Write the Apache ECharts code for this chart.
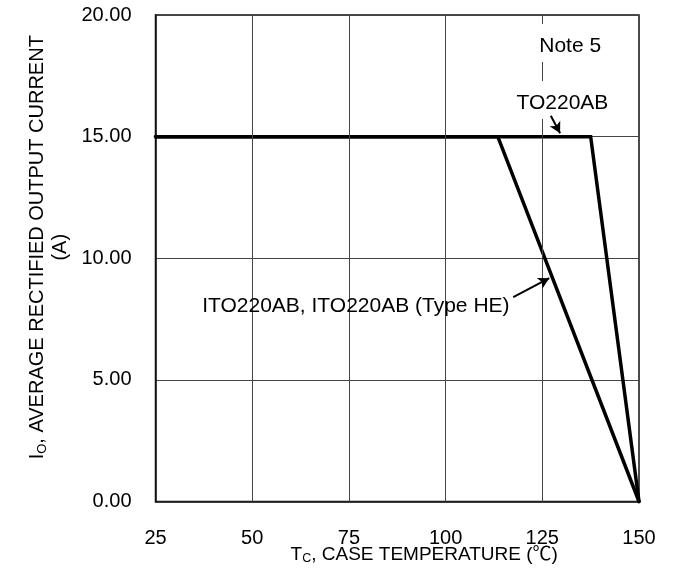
<!DOCTYPE html>
<html>
<head>
<meta charset="utf-8">
<script src="https://cdn.jsdelivr.net/npm/echarts@6/dist/echarts.min.js"></script>
<style>
html,body{margin:0;padding:0;background:#fff;}
#chart{width:675px;height:575px;}
</style>
</head>
<body>
<div id="chart"></div>
<script>
// ---- data ----
const xTicks = [25, 50, 75, 100, 125, 150];
const yTicks = [0, 5, 10, 15, 20];
const to220abTemp = [25, 137.5, 150];
const to220abCurrent = [15, 15, 0];
const ito220abTemp = [25, 113.5, 150];
const ito220abCurrent = [15, 15, 0];
const noteTemp = 125;           // Note 5 limit line
const noteCurrentRange = [15, 20];
const labelTexts = ['Note 5', 'TO220AB', 'ITO220AB, ITO220AB (Type HE)'];
const labelTemp = [132.2, 130.2, 76.8];
const labelCurrent = [18.73, 16.39, 8.04];
const arrowFromTemp = [127.2, 117.5];
const arrowFromCurrent = [15.86, 8.40];
const arrowToTemp = [129.6, 126.8];
const arrowToCurrent = [15.14, 9.18];

const FONT = '"Liberation Sans", Arial, "Noto Sans CJK JP", sans-serif';
const gridColor = '#444';

const zip = (a, b) => a.map((v, i) => [v, b[i]]);

const gridLines = [];
xTicks.slice(1, -1).forEach(t => {
  if (t === noteTemp) {
    gridLines.push([{coord: [t, yTicks[0]]}, {coord: [t, noteCurrentRange[0]]}]);
    gridLines.push([
      {coord: [t, noteCurrentRange[1]], lineStyle: {type: [19, 38], dashOffset: 10, color: gridColor, width: 1}},
      {coord: [t, noteCurrentRange[0]]}
    ]);
  } else {
    gridLines.push([{coord: [t, yTicks[0]]}, {coord: [t, yTicks[yTicks.length - 1]]}]);
  }
});

const arrows = arrowFromTemp.map((t, i) => [
  {coord: [t, arrowFromCurrent[i]]},
  {coord: [arrowToTemp[i], arrowToCurrent[i]]}
]);

const chart = echarts.init(document.getElementById('chart'), null, {renderer: 'canvas'});
chart.setOption({
  backgroundColor: '#fff',
  animation: false,
  textStyle: {fontFamily: FONT},
  grid: {
    left: 155.5, right: 36, top: 15, bottom: 73.5,
    containLabel: false, outerBoundsMode: 'none',
    show: true, borderColor: '#111', borderWidth: 1.5, backgroundColor: 'transparent'
  },
  xAxis: {
    type: 'value', min: 25, max: 150, interval: 25,
    axisLine: {show: true, lineStyle: {color: '#111', width: 1.5}},
    axisTick: {show: false},
    splitLine: {show: false},
    axisLabel: {color: '#000', fontSize: 20, fontFamily: FONT, margin: 27},
    name: '{n|T}{s|C}{n|, CASE TEMPERATURE (℃)}',
    nameLocation: 'middle', nameGap: 44, nameMoveOverlap: false,
    nameTextStyle: {
      color: '#000', fontFamily: FONT, padding: [0, 0, 0, 54],
      rich: {
        n: {fontSize: 19, fontFamily: FONT, color: '#000'},
        s: {fontSize: 12.5, fontFamily: FONT, color: '#000', verticalAlign: 'bottom', padding: [6, 0, 0, 0]}
      }
    }
  },
  yAxis: {
    type: 'value', min: 0, max: 20, interval: 5,
    axisLine: {show: true, lineStyle: {color: '#111', width: 1.5}},
    axisTick: {show: false},
    splitLine: {show: true, lineStyle: {color: gridColor, width: 1}},
    axisLabel: {color: '#000', fontSize: 20, fontFamily: FONT, margin: 24, formatter: v => v.toFixed(2)},
    name: '{n|I}{s|O}{n|, AVERAGE RECTIFIED OUTPUT CURRENT}\n{n|(A)}',
    nameLocation: 'middle', nameGap: 84, nameRotate: 90, nameMoveOverlap: false,
    nameTextStyle: {
      color: '#000', fontFamily: FONT, padding: [0, 0, 0, 22], lineHeight: 23,
      rich: {
        n: {fontSize: 20, fontFamily: FONT, color: '#000', lineHeight: 23},
        s: {fontSize: 13, fontFamily: FONT, color: '#000', verticalAlign: 'bottom', padding: [6, 0, 0, 0], lineHeight: 23}
      }
    }
  },
  series: [
    {
      name: 'grid', type: 'line', data: [], z: 1, silent: true,
      markLine: {
        silent: true, symbol: ['none', 'none'], animation: false,
        label: {show: false},
        lineStyle: {color: gridColor, width: 1, type: 'solid'},
        data: gridLines
      }
    },
    {
      name: 'TO220AB', type: 'line', data: zip(to220abTemp, to220abCurrent), z: 3,
      showSymbol: false, symbol: 'none', clip: false,
      lineStyle: {color: '#000', width: 3.5, cap: 'round', join: 'miter'}
    },
    {
      name: 'ITO220AB', type: 'line', data: zip(ito220abTemp, ito220abCurrent), z: 3,
      showSymbol: false, symbol: 'none', clip: false,
      lineStyle: {color: '#000', width: 3.5, cap: 'round', join: 'miter'}
    },
    {
      name: 'arrows', type: 'line', data: [], z: 4, silent: true,
      markLine: {
        silent: true, symbol: ['none', 'arrow'], symbolSize: [9, 11], animation: false,
        label: {show: false},
        lineStyle: {color: '#000', width: 2, type: 'solid'},
        data: arrows
      }
    },
    {
      name: 'labels', type: 'scatter', z: 5, silent: true, symbolSize: 0,
      itemStyle: {opacity: 1, color: '#000'},
      data: labelTexts.map((s, i) => [labelTemp[i], labelCurrent[i], s]),
      label: {
        show: true, position: 'inside', color: '#000', opacity: 1, fontSize: 21, fontFamily: FONT,
        formatter: p => p.data[2]
      }
    }
  ]
});
</script>
</body>
</html>
